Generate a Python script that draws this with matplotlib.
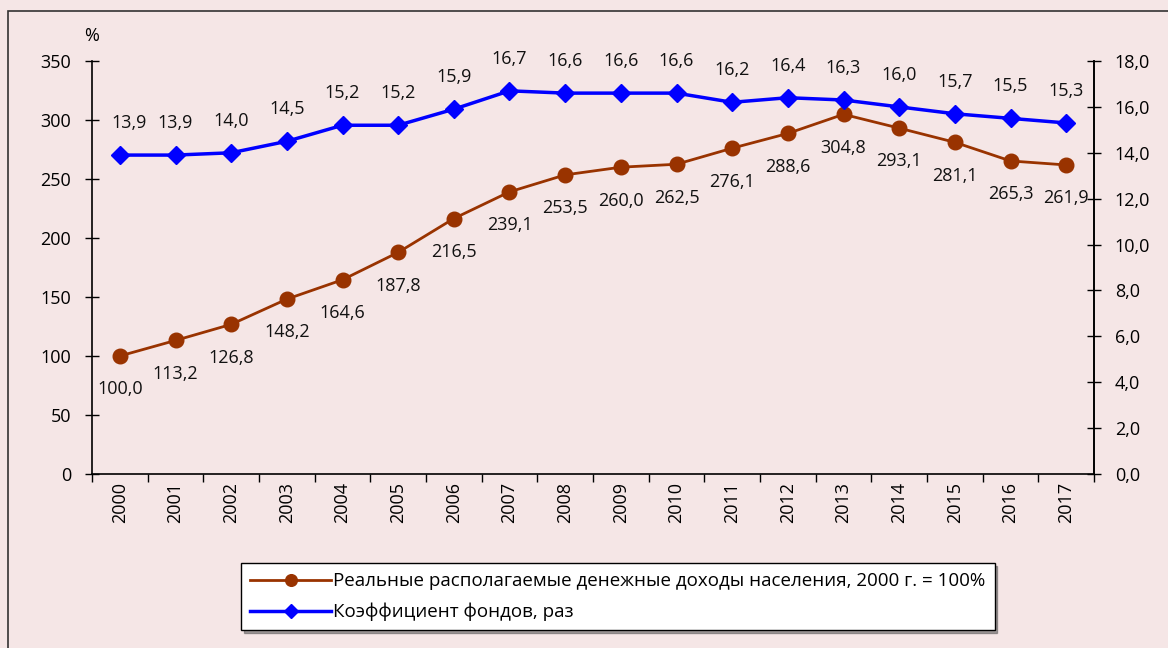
import numpy as np
import matplotlib.pyplot as plt
from matplotlib.patches import Rectangle

plt.rcParams['font.family'] = ['Open Sans', 'DejaVu Sans']

years = ['2000', '2001', '2002', '2003', '2004', '2005', '2006', '2007', '2008',
         '2009', '2010', '2011', '2012', '2013', '2014', '2015', '2016', '2017']
income = [100.0, 113.2, 126.8, 148.2, 164.6, 187.8, 216.5, 239.1, 253.5,
          260.0, 262.5, 276.1, 288.6, 304.8, 293.1, 281.1, 265.3, 261.9]
coef = [13.9, 13.9, 14.0, 14.5, 15.2, 15.2, 15.9, 16.7, 16.6,
        16.6, 16.6, 16.2, 16.4, 16.3, 16.0, 15.7, 15.5, 15.3]

bg = '#f5e6e6'
brown = '#993300'
blue = '#0000ff'
fs = 13

def fmt(v):
    return ('%.1f' % v).replace('.', ',')

fig = plt.figure(figsize=(11.68, 6.48), dpi=100, facecolor=bg)
# outer frame
fig.patches.append(Rectangle((8/1168, -0.1), 1.2, 1.1 - 11/648, transform=fig.transFigure,
                             fill=False, edgecolor='#333333', linewidth=1.2))

ax = fig.add_axes([92/1168, 1-474/648, (1094-92)/1168, (474-61)/648])
ax.set_facecolor(bg)
ax2 = ax.twinx()

x = np.arange(len(years))
l1, = ax.plot(x, income, color=brown, lw=2, marker='o', ms=10.5,
              label='Реальные располагаемые денежные доходы населения, 2000 г. = 100%')
l2, = ax2.plot(x, coef, color=blue, lw=2.5, marker='D', ms=9.5, label='Коэффициент фондов, раз')

for i, v in enumerate(income):
    ax.annotate(fmt(v), (x[i], v), xytext=(0, -24), textcoords='offset points',
                ha='center', va='center', fontsize=fs, color='#111111')
for i, v in enumerate(coef):
    dx = 7 if i == 0 else 0
    ax2.annotate(fmt(v), (x[i], v), xytext=(dx, 23), textcoords='offset points',
                 ha='center', va='center', fontsize=fs, color='#111111')

ax.set_xlim(-0.5, len(years) - 0.5)
ax.set_ylim(0, 350)
ax2.set_ylim(0, 18)
ax.set_yticks(np.arange(0, 351, 50))
ax2.set_yticks(np.arange(0, 18.1, 2))
ax2.set_yticklabels([fmt(v) for v in np.arange(0, 18.1, 2)])

ax.set_xticks(np.arange(-0.5, len(years), 1))
ax.set_xticklabels([])
ax.set_xticks(x, minor=True)
ax.set_xticklabels(years, minor=True, rotation=90)
ax.tick_params(axis='x', which='minor', length=0, pad=6, labelsize=fs)
ax.tick_params(axis='x', which='major', length=6, direction='out', width=1)
ax.tick_params(axis='y', direction='inout', length=10, width=1, labelsize=fs, pad=10)
ax2.tick_params(axis='y', direction='inout', length=10, width=1, labelsize=fs, pad=10)

for a in (ax, ax2):
    a.spines['top'].set_visible(False)
    for s in ('left', 'right', 'bottom'):
        a.spines[s].set_linewidth(1.2)
ax2.spines['left'].set_visible(False)
ax2.spines['bottom'].set_visible(False)

ax.text(0, 1.06, '%', transform=ax.transAxes, ha='center', va='center', fontsize=fs)

leg = fig.legend(handles=[l1, l2], loc='upper left', bbox_to_anchor=(241/1168, 1-563/648),
                 borderaxespad=0, fontsize=13.5, frameon=True, fancybox=False, shadow=True,
                 handlelength=4.3, handletextpad=0.1, borderpad=0.5, labelspacing=0.65,
                 markerscale=0.8)
leg.get_frame().set_edgecolor('black')
leg.get_frame().set_facecolor('white')
leg.get_frame().set_linewidth(1)

fig.savefig('out.png', dpi=100, facecolor=bg)
